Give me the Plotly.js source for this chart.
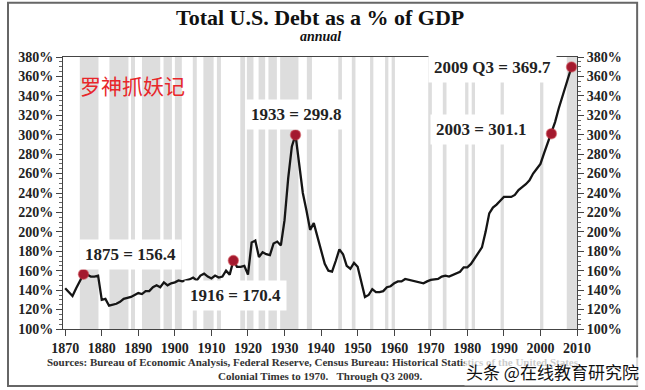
<!DOCTYPE html>
<html>
<head>
<meta charset="utf-8">
<script src="https://cdn.plot.ly/plotly-3.0.1.min.js"></script>
<style>
html,body{margin:0;padding:0;background:#fff;}
#chart{width:645px;height:390px;}
</style>
</head>
<body>
<div id="chart"></div>
<script>
// ---- data ----
const years = [1870,1871,1872,1873,1874,1875,1876,1877,1878,1879,
  1880,1881,1882,1883,1884,1885,1886,1887,1888,1889,
  1890,1891,1892,1893,1894,1895,1896,1897,1898,1899,
  1900,1901,1902,1903,1904,1905,1906,1907,1908,1909,
  1910,1911,1912,1913,1914,1915,1916,1917,1918,1919,
  1920,1921,1922,1923,1924,1925,1926,1927,1928,1929,
  1930,1931,1932,1933,1934,1935,1936,1937,1938,1939,
  1940,1941,1942,1943,1944,1945,1946,1947,1948,1949,
  1950,1951,1952,1953,1954,1955,1956,1957,1958,1959,
  1960,1961,1962,1963,1964,1965,1966,1967,1968,1969,
  1970,1971,1972,1973,1974,1975,1976,1977,1978,1979,
  1980,1981,1982,1983,1984,1985,1986,1987,1988,1989,
  1990,1991,1992,1993,1994,1995,1996,1997,1998,1999,
  2000,2001,2002,2003,2004,2005,2006,2007,2008.5];
const debtPct = [142,138,134,142,150,156.4,156,154,154,155,
  130,131,124,125,126,128,131,132,133,135,
  137,136,139,139,143,145,143,148,145,147,
  148,150,149,150,151,153,150,155,157,154,
  152,155,153,154,160,156,170.4,164,164,165,
  156,189,191,174,179,177,176,188,190,186,
  212,255,288,299.8,268,240,222,202,209,195,
  180,167,160,159,170,182,177,165,162,168,
  164,147,133,135,141,138,138,139,143,144,
  147,149,149,151.5,150.5,150,148.5,148,147,149,
  150.5,151,151.5,154,155,154,155.5,157,159,163.5,
  163.5,167,173,178,184,200,219,225,228,232,
  236,236,236,238,243,246,249,253,260,265,
  270,281,292,301.1,313,327,339,352,369.7];

const markerYears  = [1875, 1916, 1933, 2003, 2008.5];
const markerValues = [156.4, 170.4, 299.8, 301.1, 369.7];
const markerLabels = ["1875 = 156.4", "1916 = 170.4", "1933 = 299.8", "2003 = 301.1", "2009 Q3 = 369.7"];
const labelX = [1887.8, 1916.5, 1933.2, 1983.8, 1987.0];
const labelY = [177, 135, 321, 305, 369];

const recStart = [1874.0,1882.1,1888.0,1891.0,1896.9,1900.0,1904.9,1907.8,1911.5,1917.9,1919.7,1922.9,1925.6,1928.8,1936.1,1944.7,1948.4,1953.4,1957.5,1959.3,1969.3,1973.3,1979.4,1981.2,1989.1,1999.9,2007.2];
const recEnd   = [1879.1,1887.3,1889.1,1896.0,1899.2,1901.9,1906.0,1910.6,1912.6,1919.2,1921.5,1924.7,1927.9,1933.8,1937.5,1945.7,1949.4,1954.3,1958.4,1960.2,1970.3,1974.3,1980.3,1982.1,1990.0,2000.8,2010.0];

const xTicks = [1870,1880,1890,1900,1910,1920,1930,1940,1950,1960,1970,1980,1990,2000,2010];

// ---- build chart ----
const serif = 'Liberation Serif, Times New Roman, serif';
const tickFont = {family: serif, size: 14, color: '#222', weight: 'bold'};

const shapes = recStart.map((s, i) => ({
  type: 'rect', xref: 'x', yref: 'paper', x0: s, x1: recEnd[i], y0: 0, y1: 1,
  fillcolor: '#dddddd', line: {width: 0}, layer: 'below'
}));
// outer frame of the picture
shapes.push({type: 'rect', xref: 'paper', yref: 'paper',
  x0: -0.107, x1: 1.117, y0: -0.21, y1: 1.199,
  line: {color: '#666', width: 2}, fillcolor: 'rgba(0,0,0,0)'});

const annotations = markerLabels.map((t, i) => ({
  x: labelX[i], y: labelY[i], xref: 'x', yref: 'y', text: t, showarrow: false,
  xanchor: 'center', yanchor: 'middle',
  font: {family: serif, size: 17, color: '#222', weight: 'bold'},
  bgcolor: '#ffffff', borderpad: 5
}));
annotations.push({
  x: 0.5, y: 1.147, xref: 'paper', yref: 'paper', showarrow: false,
  xanchor: 'center', yanchor: 'middle',
  text: 'Total U.S. Debt as a % of GDP',
  font: {family: serif, size: 22, color: '#111', weight: 'bold'}
});
annotations.push({
  x: 0.5, y: 1.074, xref: 'paper', yref: 'paper', showarrow: false,
  xanchor: 'center', yanchor: 'middle',
  text: '<i>annual</i>',
  font: {family: serif, size: 14, color: '#111', weight: 'bold'}
});
annotations.push({
  x: 0.03, y: 0.897, xref: 'paper', yref: 'paper', xanchor: 'left', yanchor: 'middle',
  showarrow: false,
  text: '罗神抓妖记',
  font: {family: 'Noto Sans CJK SC', size: 21, color: '#e8262a'}
});
annotations.push({
  x: -0.035, y: -0.121, xref: 'paper', yref: 'paper', xanchor: 'left', yanchor: 'middle',
  showarrow: false,
  text: 'Sources: Bureau of Economic Analysis, Federal Reserve, Census Bureau: Historical Statistics of the United States,',
  font: {family: serif, size: 11, color: '#333', weight: 'bold'}
});
annotations.push({
  x: 0.5, y: -0.173, xref: 'paper', yref: 'paper', xanchor: 'center', yanchor: 'middle',
  showarrow: false,
  text: 'Colonial Times to 1970.&nbsp;&nbsp;&nbsp;Through Q3 2009.',
  font: {family: serif, size: 11, color: '#333', weight: 'bold'}
});
annotations.push({
  x: 1.125, y: -0.155, xref: 'paper', yref: 'paper', xanchor: 'right', yanchor: 'middle',
  showarrow: false,
  text: '头条 @在线教育研究院',
  font: {family: 'Noto Sans CJK SC', size: 17, color: '#111'},
  bgcolor: 'rgba(255,255,255,0.75)'
});

const yAxisCommon = {
  range: [100, 380], dtick: 20, tick0: 100, ticksuffix: '%',
  ticks: 'outside', ticklen: 6, tickcolor: '#444', tickwidth: 1,
  minor: {dtick: 5, ticks: 'outside', ticklen: 3, tickcolor: '#666'},
  showgrid: false, zeroline: false, showline: true, linecolor: '#444', linewidth: 1,
  tickfont: tickFont, fixedrange: true
};

const data = [
  {x: years, y: debtPct, type: 'scatter', mode: 'lines',
   line: {color: '#151515', width: 2.3}, hoverinfo: 'skip', showlegend: false},
  {x: markerYears, y: markerValues, type: 'scatter', mode: 'markers', yaxis: 'y2',
   marker: {color: '#a3192e', size: 10, line: {color: 'rgba(200,60,70,0.5)', width: 1.5}},
   hoverinfo: 'skip', showlegend: false}
];

const layout = {
  width: 645, height: 390,
  margin: {l: 63, r: 68, t: 57, b: 61},
  paper_bgcolor: '#ffffff', plot_bgcolor: '#ffffff',
  showlegend: false,
  xaxis: {
    range: [1869.4, 2010], tickvals: xTicks, ticks: 'outside', ticklen: 6,
    tickcolor: '#444', showgrid: false, zeroline: false, showline: true,
    linecolor: '#444', linewidth: 1, mirror: true, tickfont: tickFont, fixedrange: true
  },
  yaxis: Object.assign({}, yAxisCommon, {side: 'left'}),
  yaxis2: Object.assign({}, yAxisCommon, {side: 'right', overlaying: 'y'}),
  shapes: shapes,
  annotations: annotations
};

Plotly.newPlot('chart', data, layout, {displayModeBar: false, staticPlot: true});
</script>
</body>
</html>
